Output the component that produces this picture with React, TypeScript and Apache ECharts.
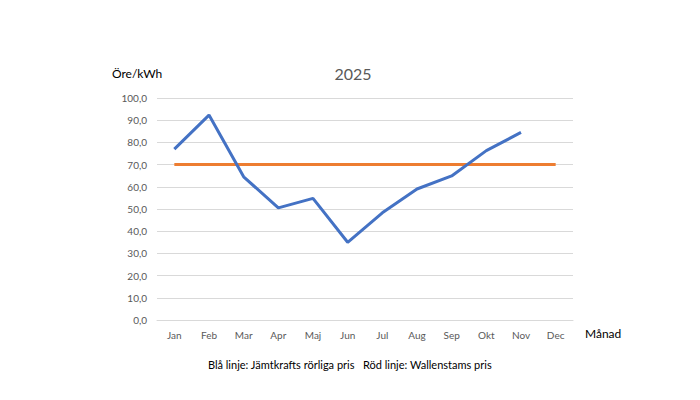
import React, { useEffect, useRef } from "react";
import * as echarts from "echarts";

const months = ["Jan", "Feb", "Mar", "Apr", "Maj", "Jun", "Jul", "Aug", "Sep", "Okt", "Nov", "Dec"];
const jamtkraft = [77, 92.3, 64.5, 50.5, 54.8, 35, 48.3, 59, 64.9, 76.3, 84.5, null];
const wallenstam = [70, 70, 70, 70, 70, 70, 70, 70, 70, 70, 70, 70];
const yTicks = { min: 0, max: 100, interval: 10 };

const FONT = "Lato, 'Open Sans', sans-serif";

export default function App() {
  const ref = useRef<HTMLDivElement>(null);
  useEffect(() => {
    if (!ref.current) return;
    const chart = echarts.init(ref.current, null, { renderer: "svg" });
    chart.setOption({
      animation: false,
      backgroundColor: "#ffffff",
      textStyle: { fontFamily: FONT },
      title: {
        text: "2025",
        left: 348,
        top: 60,
        textAlign: "center",
        textStyle: { fontSize: 16, fontWeight: "normal", color: "#595959", fontFamily: FONT },
      },
      graphic: [
        { type: "text", left: 112, top: 67, style: { text: "Öre/kWh", fontSize: 12, fill: "#000", fontFamily: FONT } },
        { type: "text", left: 585, top: 327, style: { text: "Månad", fontSize: 12, fill: "#000", fontFamily: FONT } },
        {
          type: "text",
          left: "center",
          top: 359,
          style: { text: "Blå linje: Jämtkrafts rörliga pris   Röd linje: Wallenstams pris", fontSize: 11, fill: "#000", fontFamily: FONT },
        },
      ],
      grid: { left: 157, right: 127, top: 98, bottom: 80, containLabel: false },
      xAxis: {
        type: "category",
        data: months,
        boundaryGap: true,
        axisLine: { show: true, lineStyle: { color: "#D9D9D9" } },
        axisTick: { show: false },
        axisLabel: { color: "#595959", fontSize: 10, margin: 10, fontFamily: FONT },
      },
      yAxis: {
        type: "value",
        min: yTicks.min,
        max: yTicks.max,
        interval: yTicks.interval,
        axisLine: { show: false },
        axisTick: { show: false },
        splitLine: { lineStyle: { color: "#D9D9D9", width: 1 } },
        axisLabel: {
          color: "#595959",
          fontSize: 10,
          margin: 10,
          fontFamily: FONT,
          formatter: (v: number) => v.toFixed(1).replace(".", ","),
        },
      },
      series: [
        {
          type: "line",
          data: wallenstam,
          symbol: "none",
          lineStyle: { color: "#ED7D31", width: 3 },
          z: 2,
        },
        {
          type: "line",
          data: jamtkraft,
          symbol: "none",
          lineStyle: { color: "#4472C4", width: 3 },
          z: 3,
        },
      ],
    });
    return () => chart.dispose();
  }, []);
  return <div ref={ref} style={{ width: 700, height: 400, position: "absolute", left: 0, top: 0 }} />;
}
